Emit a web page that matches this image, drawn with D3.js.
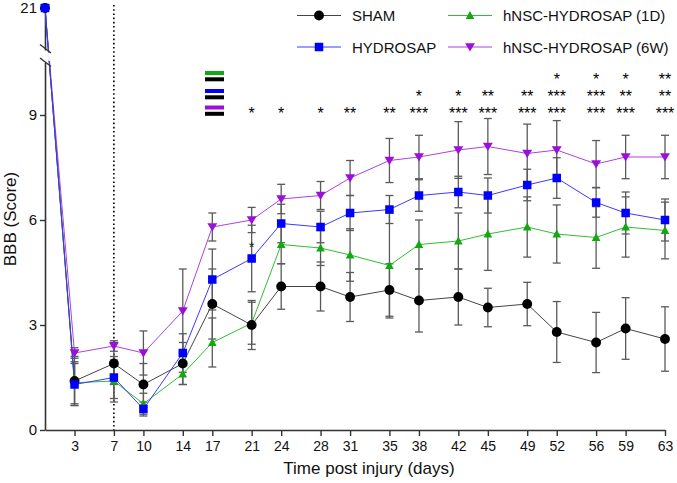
<!DOCTYPE html>
<html><head><meta charset="utf-8">
<script src="https://cdn.jsdelivr.net/npm/d3@7"></script>
<style>
body{margin:0;background:#fff;}
text{font-family:"Liberation Sans",Arial,sans-serif;}
</style></head>
<body><svg id="c" width="677" height="483"></svg>
<script>
const days = [0,3,7,10,14,17,21,24,28,31,35,38,42,45,49,52,56,59,63];
const seriesNames = ["SHAM","HYDROSAP","hNSC-HYDROSAP (1D)","hNSC-HYDROSAP (6W)"];
const sham = [21,1.4,1.9,1.3,1.9,3.6,3.0,4.1,4.1,3.8,4.0,3.7,3.8,3.5,3.6,2.8,2.5,2.9,2.6];
const hyd  = [21,1.3,1.5,0.6,2.2,4.3,4.9,5.9,5.8,6.2,6.3,6.7,6.8,6.7,7.0,7.2,6.5,6.2,6.0];
const d1   = [21,1.35,1.4,0.75,1.6,2.5,3.05,5.3,5.2,5.0,4.7,5.3,5.4,5.6,5.8,5.6,5.5,5.8,5.7];
const w6   = [21,2.2,2.4,2.2,3.4,5.8,6.0,6.6,6.7,7.2,7.7,7.8,8.0,8.1,7.9,8.0,7.6,7.8,7.8];
const shamErr = [0,0.7,0.6,0.6,0.6,1.0,0.7,0.65,0.7,0.7,0.75,0.9,0.8,0.55,0.62,0.87,0.86,0.88,0.92];
const hydErr  = [0,0.6,0.6,0.2,0.55,0.87,0.95,0.55,0.45,0.5,0.4,0.45,0.45,0.5,0.45,0.58,0.42,0.6,0.6];
const d1Err   = [0,0.6,0.6,0.3,0.3,0.7,0.6,0.55,0.5,0.75,1.5,0.7,0.8,1.04,0.86,0.83,0.88,0.86,0.81];
const w6Err   = [0,0.15,0.15,0.63,1.2,0.4,0.36,0.42,0.4,0.5,0.63,0.62,0.81,0.8,0.84,0.84,0.67,0.62,0.62];
const xTicks = [3,7,10,14,17,21,24,28,31,35,38,42,45,49,52,56,59,63];
const yTicksLow = [0,3,6,9];
const yTicksHigh = [21];
const starsD1  = ["","","","","","","","","","","","","","","","*","*","*","**"];
const starsHyd = ["","","","","","","","","","","","*","*","**","**","***","***","**","**"];
const starsW6  = ["","","","","","","*","*","*","**","**","***","***","***","***","***","***","***","***"];
const extraStar = {day:21, value:5.3, text:"*"};

const svg = d3.select("#c");
const x = d3.scaleLinear().domain([0,63]).range([45,665]);
const y = d3.scaleLinear().domain([0,10.5,19.8,21]).range([430,62.5,50,8]);
const yLow = d3.scaleLinear().domain([0,10.5]).range([430,62.5]);
const yHigh = d3.scaleLinear().domain([19.8,21.086]).range([50,5]);

const colors = {SHAM:"#000000",HYDROSAP:"#0000ff","hNSC-HYDROSAP (1D)":"#12a812","hNSC-HYDROSAP (6W)":"#9a10d8"};
const lineColors = {SHAM:"#444",HYDROSAP:"#3a3aff","hNSC-HYDROSAP (1D)":"#2fbf2f","hNSC-HYDROSAP (6W)":"#b040e0"};
const vals = {SHAM:sham,HYDROSAP:hyd,"hNSC-HYDROSAP (1D)":d1,"hNSC-HYDROSAP (6W)":w6};
const errs = {SHAM:shamErr,HYDROSAP:hydErr,"hNSC-HYDROSAP (1D)":d1Err,"hNSC-HYDROSAP (6W)":w6Err};

// dotted line at day 7
svg.append("line").attr("x1",x(7)).attr("x2",x(7)).attr("y1",5).attr("y2",430)
  .attr("stroke","#000").attr("stroke-width",1.6).attr("stroke-dasharray","1.6,2.6");

// axes
const gx = svg.append("g").attr("transform","translate(0,430)")
  .call(d3.axisBottom(x).tickValues(xTicks).tickFormat(d3.format("d")).tickSize(6).tickSizeOuter(0).tickPadding(5));
gx.select(".domain").attr("stroke","#333").attr("stroke-width",1.6);
gx.selectAll(".tick line").attr("stroke","#333").attr("stroke-width",1.4);
gx.selectAll("text").attr("font-size","14px").attr("fill","#111").attr("font-family","Liberation Sans, Arial, sans-serif");

const gyl = svg.append("g").attr("transform","translate(45,0)")
  .call(d3.axisLeft(yLow).tickValues(yTicksLow).tickFormat(d3.format("d")).tickSize(5).tickSizeOuter(0).tickPadding(3));
const gyh = svg.append("g").attr("transform","translate(45,0)")
  .call(d3.axisLeft(yHigh).tickValues(yTicksHigh).tickFormat(d3.format("d")).tickSize(5).tickSizeOuter(0).tickPadding(3));
[gyl,gyh].forEach(g=>{
  g.select(".domain").attr("stroke","#333").attr("stroke-width",1.6);
  g.selectAll(".tick line").attr("stroke","#333").attr("stroke-width",1.4);
  g.selectAll("text").attr("font-size","15px").attr("fill","#111").attr("font-family","Liberation Sans, Arial, sans-serif");
});

// axis titles
svg.append("text").attr("x",369).attr("y",474).attr("text-anchor","middle")
  .attr("font-size","17px").attr("fill","#111").text("Time post injury (days)");
svg.append("text").attr("transform","translate(16,219) rotate(-90)").attr("text-anchor","middle")
  .attr("font-size","17px").attr("fill","#111").text("BBB (Score)");

// error bars
const order = ["hNSC-HYDROSAP (1D)","hNSC-HYDROSAP (6W)","SHAM","HYDROSAP"];
const eg = svg.append("g");
order.forEach(name=>{
  days.forEach((d,i)=>{
    const e = errs[name][i]; if(!e) return;
    const v = vals[name][i];
    const cx = x(d), y1 = y(v+e), y2 = y(v-e);
    eg.append("line").attr("x1",cx).attr("x2",cx).attr("y1",y1).attr("y2",y2).attr("stroke","#5a5a5a").attr("stroke-width",1.3);
    [y1,y2].forEach(yy=>eg.append("line").attr("x1",cx-4).attr("x2",cx+4).attr("y1",yy).attr("y2",yy).attr("stroke","#5a5a5a").attr("stroke-width",1.3));
  });
});

// lines
const line = d3.line().x(d=>x(d[0])).y(d=>y(d[1]));
order.forEach(name=>{
  svg.append("path").datum(days.map((d,i)=>[d,vals[name][i]]))
    .attr("d",line).attr("fill","none").attr("stroke",lineColors[name]).attr("stroke-width",1);
});

// axis break mask and slashes
svg.append("polygon").attr("points","38,48 54,55 54,63 38,56").attr("fill","#fff");
svg.append("line").attr("x1",40).attr("y1",44.5).attr("x2",51).attr("y2",53).attr("stroke","#333").attr("stroke-width",1.4);
svg.append("line").attr("x1",40).attr("y1",58).attr("x2",51).attr("y2",66.5).attr("stroke","#333").attr("stroke-width",1.4);

// markers
function marker(g,name,cx,cy,size){
  const c = colors[name];
  if(name==="SHAM") g.append("circle").attr("cx",cx).attr("cy",cy).attr("r",size*0.55).attr("fill",c);
  else if(name==="HYDROSAP") g.append("rect").attr("x",cx-size/2).attr("y",cy-size/2).attr("width",size).attr("height",size).attr("fill",c);
  else if(name==="hNSC-HYDROSAP (1D)") g.append("path").attr("d",`M${cx},${cy-size*0.5}L${cx+size*0.48},${cy+size*0.38}L${cx-size*0.48},${cy+size*0.38}Z`).attr("fill",c);
  else g.append("path").attr("d",`M${cx},${cy+size*0.5}L${cx+size*0.55},${cy-size*0.42}L${cx-size*0.55},${cy-size*0.42}Z`).attr("fill",c);
}
const mg = svg.append("g");
order.forEach(name=>{
  days.forEach((d,i)=>marker(mg,name,x(d),y(vals[name][i]),name==="HYDROSAP"?8.5:9));
});

// significance stars
const rows = [{s:starsD1,y:85,c1:colors["hNSC-HYDROSAP (1D)"],by:71},{s:starsHyd,y:102,c1:colors["HYDROSAP"],by:89},{s:starsW6,y:119,c1:colors["hNSC-HYDROSAP (6W)"],by:105.5}];
rows.forEach(r=>{
  days.forEach((d,i)=>{ if(r.s[i]) svg.append("text").attr("x",x(d)).attr("y",r.y).attr("text-anchor","middle").attr("font-size","16px").attr("fill","#000").text(r.s[i]); });
  svg.append("rect").attr("x",205).attr("y",r.by).attr("width",19).attr("height",4).attr("fill",r.c1);
  svg.append("rect").attr("x",205).attr("y",r.by+6.3).attr("width",19).attr("height",4).attr("fill","#000");
});
svg.append("text").attr("x",x(extraStar.day)).attr("y",y(extraStar.value)+7).attr("text-anchor","middle").attr("font-size","15px").attr("fill","#222").text(extraStar.text);

// legend
const legend = [{n:"SHAM",lx:297,ly:15.5},{n:"HYDROSAP",lx:297,ly:47},{n:"hNSC-HYDROSAP (1D)",lx:448,ly:15.5},{n:"hNSC-HYDROSAP (6W)",lx:448,ly:47}];
legend.forEach(l=>{
  const g = svg.append("g");
  g.append("line").attr("x1",l.lx).attr("x2",l.lx+44).attr("y1",l.ly).attr("y2",l.ly).attr("stroke",lineColors[l.n]).attr("stroke-width",1);
  marker(g,l.n,l.lx+22,l.ly,l.n==="HYDROSAP"?8.5:9);
  g.append("text").attr("x",l.lx+55).attr("y",l.ly+5.5).attr("font-size","15px").attr("fill","#111").text(l.n);
});
</script></body></html>
